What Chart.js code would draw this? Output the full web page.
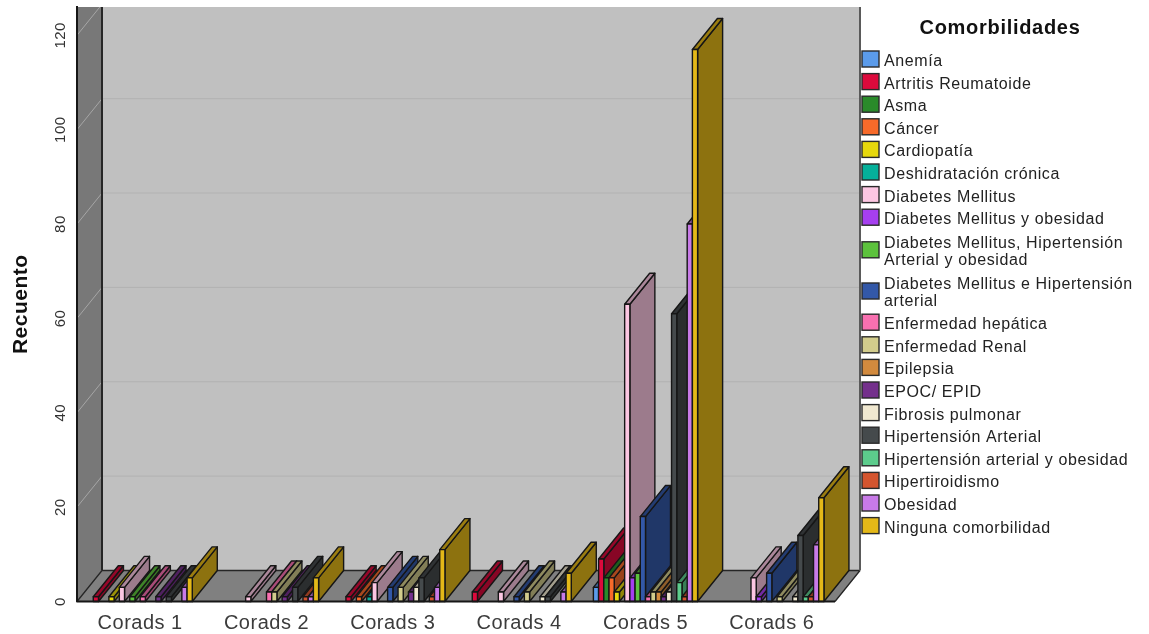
<!DOCTYPE html>
<html lang="es">
<head>
<meta charset="utf-8">
<title>Comorbilidades por Corads</title>
<style>
  html, body { margin: 0; padding: 0; background: #fff; }
  canvas { display: block; }
</style>
<script src="https://cdn.jsdelivr.net/npm/chart.js@4"></script>
</head>
<body>
<canvas id="chart" width="1149" height="634"></canvas>
<script>
// Categories and axis ticks
const categories = ["Corads 1", "Corads 2", "Corads 3", "Corads 4", "Corads 5", "Corads 6"];
const yTicks = [0, 20, 40, 60, 80, 100, 120];

// Counts per comorbidity, one value per Corads group
const anemia           = [0, 0, 0, 0, 3, 0];
const artritis         = [1, 0, 1, 2, 9, 0];
const asma             = [0, 0, 0, 0, 5, 0];
const cancer           = [0, 0, 1, 0, 5, 0];
const cardiopatia      = [1, 0, 0, 0, 2, 0];
const deshidratacion   = [0, 0, 1, 0, 0, 0];
const diabetes         = [3, 1, 4, 2, 63, 5];
const diabetesObesidad = [0, 0, 0, 0, 5, 1];
const diabetesHtaOb    = [1, 0, 0, 0, 6, 0];
const diabetesHta      = [0, 0, 3, 1, 18, 6];
const hepatica         = [1, 2, 0, 0, 1, 0];
const renal            = [0, 2, 3, 2, 2, 1];
const epilepsia        = [0, 0, 0, 0, 2, 0];
const epoc             = [1, 1, 2, 0, 1, 0];
const fibrosis         = [0, 0, 3, 1, 2, 1];
const hipertension     = [1, 3, 5, 1, 61, 14];
const htaObesidad      = [0, 0, 0, 0, 4, 1];
const hipertiroidismo  = [0, 1, 1, 0, 1, 1];
const obesidad         = [3, 1, 3, 2, 80, 12];
const ninguna          = [5, 5, 11, 6, 117, 22];

const seriesNames = [
  "Anemía", "Artritis Reumatoide", "Asma", "Cáncer", "Cardiopatía",
  "Deshidratación crónica", "Diabetes Mellitus", "Diabetes Mellitus y obesidad",
  "Diabetes Mellitus, Hipertensión Arterial y obesidad",
  "Diabetes Mellitus e Hipertensión arterial", "Enfermedad hepática",
  "Enfermedad Renal", "Epilepsia", "EPOC/ EPID", "Fibrosis pulmonar",
  "Hipertensión Arterial", "Hipertensión arterial y obesidad",
  "Hipertiroidismo", "Obesidad", "Ninguna comorbilidad"
];
const seriesValues = [
  anemia, artritis, asma, cancer, cardiopatia, deshidratacion, diabetes,
  diabetesObesidad, diabetesHtaOb, diabetesHta, hepatica, renal, epilepsia,
  epoc, fibrosis, hipertension, htaObesidad, hipertiroidismo, obesidad, ninguna
];
const seriesColors = [
  "#5b9bea", "#dc0a3c", "#2a8a2a", "#f76a2a", "#e6d80c", "#05b09a", "#fcc6e2",
  "#a63ff0", "#5cc23c", "#3358a8", "#f870b0", "#d2cc8c", "#d28a3e", "#74308c",
  "#f0e8d0", "#454a4c", "#5ccc8c", "#d4552f", "#c87ae8", "#e4b818"
];

// Oblique offset of the depth axis
const DEPTH_X = 25;
const DEPTH_Y = 31;
const EDGE = "#161616";
const FONT = "'Liberation Sans', Arial, sans-serif";

function shade(hex, k) {
  const n = parseInt(hex.slice(1), 16);
  const c = [n >> 16 & 255, n >> 8 & 255, n & 255].map(v => Math.round(v * k));
  return `rgb(${c[0]},${c[1]},${c[2]})`;
}

function polygon(ctx, pts, fill, stroke) {
  ctx.beginPath();
  pts.forEach((p, i) => i ? ctx.lineTo(p[0], p[1]) : ctx.moveTo(p[0], p[1]));
  ctx.closePath();
  if (fill) { ctx.fillStyle = fill; ctx.fill(); }
  if (stroke) { ctx.strokeStyle = stroke; ctx.stroke(); }
}

// Back wall, side wall and floor of the oblique box
const roomPlugin = {
  id: "room",
  beforeDraw(chart) {
    const { ctx, chartArea: a, scales: { y } } = chart;
    ctx.letterSpacing = "0.5px";
    ctx.save();
    ctx.beginPath();
    ctx.rect(a.left - 1, a.top, a.right - a.left + DEPTH_X + 3, a.bottom - a.top + 2);
    ctx.clip();

    const bx = a.left + DEPTH_X, rx = a.right + DEPTH_X, fy = a.bottom - DEPTH_Y;
    polygon(ctx, [[bx, a.top], [rx, a.top], [rx, fy], [bx, fy]], "#c0c0c0");
    polygon(ctx, [[a.left, a.top - 2], [bx, a.top - 2], [bx, fy], [a.left, a.bottom]], "#787878");
    polygon(ctx, [[a.left, a.bottom], [bx, fy], [rx, fy], [a.right, a.bottom]], "#808080");

    ctx.lineWidth = 1;
    yTicks.slice(1).forEach(t => {
      const py = y.getPixelForValue(t);
      ctx.strokeStyle = "#a6a6a6";
      ctx.beginPath();
      ctx.moveTo(a.left, py);
      ctx.lineTo(bx, py - DEPTH_Y);
      ctx.stroke();
      ctx.strokeStyle = "#b2b2b2";
      ctx.beginPath();
      ctx.moveTo(bx, py - DEPTH_Y);
      ctx.lineTo(rx, py - DEPTH_Y);
      ctx.stroke();
    });

    ctx.strokeStyle = "#262626";
    ctx.lineWidth = 1.3;
    ctx.beginPath();
    ctx.moveTo(bx, fy); ctx.lineTo(rx, fy);
    ctx.moveTo(a.left, a.bottom); ctx.lineTo(bx, fy);
    ctx.moveTo(a.right, a.bottom); ctx.lineTo(rx, fy);
    ctx.stroke();
    ctx.lineWidth = 2;
    ctx.beginPath();
    ctx.moveTo(bx, a.top); ctx.lineTo(bx, fy);
    ctx.stroke();
    ctx.strokeStyle = "#5a5a5a";
    ctx.beginPath();
    ctx.moveTo(rx, a.top); ctx.lineTo(rx, fy);
    ctx.stroke();
    ctx.restore();
  }
};

// Bars are painted left to right so that each front hides its neighbour's side
const prismPlugin = {
  id: "prisms",
  beforeDatasetsDraw(chart) {
    const { ctx, chartArea: a } = chart;
    const bars = [];
    chart.data.datasets.forEach((ds, i) => {
      chart.getDatasetMeta(i).data.forEach((el, j) => {
        if (ds.data[j] > 0) bars.push({ el, color: ds.backgroundColor });
      });
    });
    bars.sort((p, q) => p.el.x - q.el.x);

    ctx.save();
    ctx.lineJoin = "round";
    ctx.lineWidth = 1.4;
    bars.forEach(({ el, color }) => {
      const l = el.x - el.width / 2, r = el.x + el.width / 2, t = el.y, b = el.base;
      polygon(ctx, [[r, t], [r + DEPTH_X, t - DEPTH_Y], [r + DEPTH_X, b - DEPTH_Y], [r, b]], shade(color, 0.62), EDGE);
      polygon(ctx, [[l, t], [l + DEPTH_X, t - DEPTH_Y], [r + DEPTH_X, t - DEPTH_Y], [r, t]], shade(color, 0.68), EDGE);
      polygon(ctx, [[l, t], [r, t], [r, b], [l, b]], color, EDGE);
    });

    // Outer frame of the front plane, over the bar feet
    ctx.strokeStyle = "#161616";
    ctx.lineWidth = 2;
    ctx.beginPath();
    ctx.moveTo(a.left, a.top - 1);
    ctx.lineTo(a.left, a.bottom);
    ctx.lineTo(a.right, a.bottom);
    ctx.stroke();
    ctx.restore();
    return false;
  }
};

// Legend column, wrapped the way the long comorbidity names need
const legendPlugin = {
  id: "sideLegend",
  afterDraw(chart) {
    const { ctx } = chart;
    const boxX = 862, boxW = 17, boxH = 16, textX = 884, maxW = 258;
    ctx.save();
    ctx.textBaseline = "middle";
    ctx.fillStyle = "#111";
    ctx.font = `bold 20px ${FONT}`;
    ctx.letterSpacing = "0.7px";
    ctx.textAlign = "center";
    ctx.fillText("Comorbilidades", 1000, 28);

    ctx.textAlign = "left";
    ctx.font = `16px ${FONT}`;
    ctx.letterSpacing = "0.6px";
    let cy = 59;
    chart.data.datasets.forEach(ds => {
      const lines = [];
      let line = "";
      ds.label.split(" ").forEach(word => {
        const next = line ? line + " " + word : word;
        if (ctx.measureText(next).width > maxW && line) { lines.push(line); line = word; }
        else line = next;
      });
      lines.push(line);

      if (lines.length > 1) cy += 10;
      ctx.fillStyle = ds.backgroundColor;
      ctx.fillRect(boxX, cy - boxH / 2, boxW, boxH);
      ctx.strokeStyle = "#2a2a2a";
      ctx.lineWidth = 1.4;
      ctx.strokeRect(boxX, cy - boxH / 2, boxW, boxH);
      ctx.fillStyle = "#222";
      lines.forEach((s, k) => {
        ctx.fillText(s, textX, cy + 2.5 + (k - (lines.length - 1) / 2) * 17);
      });
      cy += lines.length > 1 ? 31.2 : 22.6;
    });
    ctx.restore();
  }
};

new Chart(document.getElementById("chart"), {
  type: "bar",
  data: {
    labels: categories,
    datasets: seriesNames.map((name, i) => ({
      label: name,
      data: seriesValues[i],
      backgroundColor: seriesColors[i],
      categoryPercentage: 0.825,
      barPercentage: 1
    }))
  },
  options: {
    responsive: false,
    animation: false,
    events: [],
    layout: { padding: { left: 0, right: 314, top: 7, bottom: 0 } },
    plugins: { legend: { display: false }, tooltip: { enabled: false } },
    scales: {
      x: {
        grid: { display: false, drawTicks: false },
        border: { display: false },
        ticks: { color: "#3c3c3c", font: { family: FONT, size: 20 }, padding: 10, maxRotation: 0 },
        afterFit(scale) { scale.height = 32.5; }
      },
      y: {
        min: 0,
        max: 126,
        grid: { display: false, drawTicks: false },
        border: { display: false },
        afterBuildTicks(scale) { scale.ticks = yTicks.map(value => ({ value })); },
        afterFit(scale) { scale.width = 77; scale.paddingTop = 0; scale.paddingBottom = 0; },
        ticks: {
          color: "#333",
          font: { family: FONT, size: 15 },
          minRotation: 90,
          crossAlign: "center",
          padding: 4
        },
        title: {
          display: true,
          text: "Recuento",
          color: "#111",
          font: { family: FONT, size: 21, weight: "bold" },
          padding: { top: 9, bottom: 0 }
        }
      }
    }
  },
  plugins: [roomPlugin, prismPlugin, legendPlugin]
});
</script>
</body>
</html>
